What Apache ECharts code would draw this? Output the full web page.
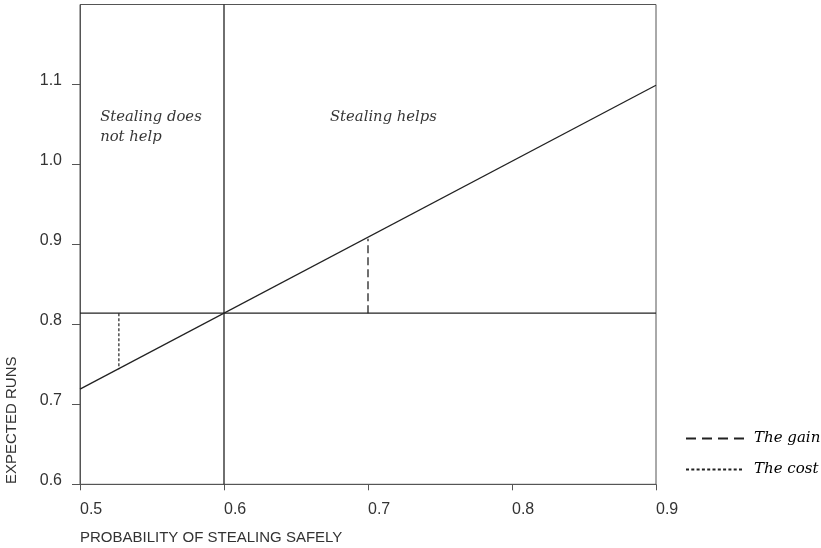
<!DOCTYPE html>
<html>
<head>
<meta charset="utf-8">
<script src="https://cdn.jsdelivr.net/npm/echarts@6/dist/echarts.min.js"></script>
<style>html,body{margin:0;padding:0;background:#fff}#c{width:821px;height:548px}</style>
</head>
<body>
<div id="c"></div>
<script>
// Data
var xTicks = [0.5, 0.6, 0.7, 0.8, 0.9];
var yTicks = [0.6, 0.7, 0.8, 0.9, 1.0, 1.1];
var expectedRunsLine = [[0.5, 0.719], [0.9, 1.099]];
var breakEvenRuns = [[0.5, 0.814], [0.9, 0.814]];
var breakEvenProb = [[0.6, 0.6], [0.6, 1.2]];
var gainLine = [[0.7, 0.814], [0.7, 0.907]];
var costLine = [[0.527, 0.814], [0.527, 0.744]];
var annotations = [
  {text: 'Stealing does\nnot help', coord: [0.514, 1.072]},
  {text: 'Stealing helps', coord: [0.6736, 1.072]}
];

var serif = '"DejaVu Serif", serif';
var sans = '"Liberation Sans", Arial, sans-serif';
var chart = echarts.init(document.getElementById('c'));
chart.setOption({
  animation: false,
  grid: {left: 80, right: 165, top: 4.5, bottom: 63.7, show: true, borderColor: '#555', borderWidth: 1},
  xAxis: {
    type: 'value', min: 0.5, max: 0.9, interval: 0.1,
    axisLine: {lineStyle: {color: '#555'}},
    axisTick: {show: true, length: 6, lineStyle: {color: '#555'}, customValues: xTicks},
    splitLine: {show: false},
    axisLabel: {color: '#333', fontFamily: sans, fontSize: 16, align: 'left', margin: 17, customValues: xTicks,
      formatter: function (v) { return (+v).toFixed(1); }}
  },
  yAxis: {
    type: 'value', min: 0.6, max: 1.2, interval: 0.1,
    axisLine: {show: true, lineStyle: {color: '#555'}},
    axisTick: {show: true, length: 8, lineStyle: {color: '#555'}, customValues: yTicks},
    splitLine: {show: false},
    axisLabel: {color: '#333', fontFamily: sans, fontSize: 16, margin: 18, verticalAlign: 'bottom', lineHeight: 8,
      customValues: yTicks,
      formatter: function (v) { return (+v).toFixed(1); }}
  },
  legend: {
    orient: 'vertical', left: 685, top: 431, itemWidth: 58, itemHeight: 14, itemGap: 16, padding: 0,
    itemStyle: {opacity: 0},
    textStyle: {fontFamily: serif, fontStyle: 'italic', fontSize: 15, color: '#000', padding: [0, 0, 0, 5]},
    data: [
      {name: 'The gain', lineStyle: {type: [10, 6]}},
      {name: 'The cost', lineStyle: {type: [3, 2.3]}}
    ]
  },
  graphic: [{
    type: 'text', x: 12, y: 484, rotation: Math.PI / 2,
    style: {text: 'EXPECTED RUNS', fill: '#333', font: '15px ' + sans, align: 'left', verticalAlign: 'middle'}
  }, {
    type: 'text', x: 80, y: 538,
    style: {text: 'PROBABILITY OF STEALING SAFELY', fill: '#333', font: '15px ' + sans, align: 'left', verticalAlign: 'middle'}
  }],
  series: [
    {type: 'line', data: expectedRunsLine, symbol: 'none', lineStyle: {color: '#222', width: 1.3}, silent: true},
    {type: 'line', data: breakEvenRuns, symbol: 'none', lineStyle: {color: '#222', width: 1.3}, silent: true},
    {type: 'line', data: breakEvenProb, symbol: 'none', lineStyle: {color: '#222', width: 1.3}, silent: true},
    {name: 'The gain', type: 'line', data: gainLine, symbol: 'none', itemStyle: {color: '#222'},
      lineStyle: {color: '#222', width: 1.3, type: [8, 4]}},
    {name: 'The cost', type: 'line', data: costLine, symbol: 'none', itemStyle: {color: '#222'},
      lineStyle: {color: '#222', width: 1.2, type: [3, 2]}},
    {type: 'scatter', symbolSize: 0, silent: true,
      data: annotations.map(function (a) { return {value: a.coord, name: a.text}; }),
      label: {show: true, position: [0, 0], align: 'left', verticalAlign: 'top',
        formatter: function (p) { return p.name; },
        fontFamily: serif, fontStyle: 'italic', fontSize: 14.8, lineHeight: 20, color: '#000'}}
  ]
});
</script>
</body>
</html>
